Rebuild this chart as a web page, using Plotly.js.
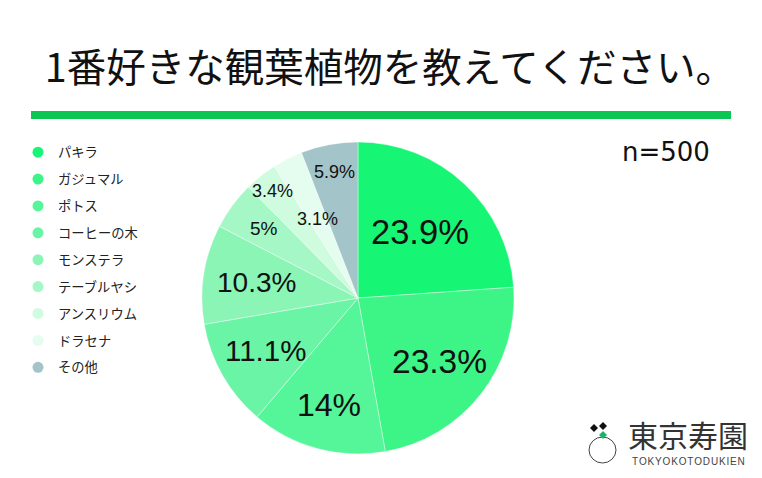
<!DOCTYPE html>
<html>
<head>
<meta charset="utf-8">
<script src="https://cdn.plot.ly/plotly-3.0.1.min.js"></script>
<style>html,body{margin:0;padding:0;background:#fff;}#chart{width:762px;height:478px;}</style>
</head>
<body>
<div id="chart"></div>
<script>
const labels = ["パキラ", "ガジュマル", "ポトス", "コーヒーの木", "モンステラ", "テーブルヤシ", "アンスリウム", "ドラセナ", "その他"];
const values = [23.9, 23.3, 14, 11.1, 10.3, 5, 3.4, 3.1, 5.9];
const titleText = "1番好きな観葉植物を教えてください。";
const sampleText = "n=500";

const colors = ["#16F674", "#3DF586", "#55F599", "#6AF4A6", "#8BF5B6", "#A5F7C6", "#CFFBDF", "#E5FDEE", "#A3C4C9"];
const textSizes = [34.5, 33.5, 32, 29.5, 28, 19, 18, 18, 18];
// radial fraction of each slice's label (style)
const labelRadius = [0.58, 0.66, 0.71, 0.68, 0.66, 0.75, 0.88, 0.57, 0.82];

const cx = 358, cy = 298, r = 156, W = 762, H = 478;
const digitFont = "Liberation Sans, Arial, sans-serif";

const pie = {
  type: "pie",
  labels: labels,
  values: values,
  sort: false,
  direction: "clockwise",
  rotation: 0,
  marker: {colors: colors, line: {color: "#ffffff", width: 0.4}},
  textinfo: "none",
  domain: {x: [(cx - r) / W, (cx + r) / W], y: [(H - cy - r) / H, (H - cy + r) / H]},
  showlegend: false,
  hoverinfo: "label+percent"
};

const legendTraces = labels.map((lab, i) => ({
  type: "scatter",
  mode: "markers",
  x: [null], y: [null],
  name: lab,
  legendgroup: "g" + i,
  marker: {color: colors[i], size: 11, symbol: "circle"},
  showlegend: true,
  hoverinfo: "skip"
}));

// percentage labels, positioned along each slice's mid-angle from the cumulative values
const total = values.reduce((a, b) => a + b, 0);
const sliceAnnotations = [];
let cum = 0;
values.forEach((v, i) => {
  const mid = (cum + v / 2) / total * 2 * Math.PI;
  cum += v;
  const f = labelRadius[i];
  sliceAnnotations.push({
    text: v + "%", xref: "paper", yref: "paper",
    x: (cx + f * r * Math.sin(mid)) / W,
    y: 1 - (cy - f * r * Math.cos(mid)) / H,
    xanchor: "center", yanchor: "middle", showarrow: false, borderpad: 0,
    font: {size: textSizes[i], color: "#111111", family: digitFont}
  });
});

function diamond(x, y, s) {
  return "M " + ((x) / W) + "," + (1 - (y - s) / H) + " L " + ((x + s) / W) + "," + (1 - y / H) +
         " L " + (x / W) + "," + (1 - (y + s) / H) + " L " + ((x - s) / W) + "," + (1 - y / H) + " Z";
}

const layout = {
  width: W, height: H,
  margin: {l: 0, r: 0, t: 0, b: 0},
  paper_bgcolor: "#ffffff",
  plot_bgcolor: "rgba(0,0,0,0)",
  xaxis: {visible: false, domain: [0, 0.01]},
  yaxis: {visible: false, domain: [0, 0.01]},
  title: {
    text: titleText,
    x: 390 / W, xanchor: "center",
    y: 1 - 68 / H, yanchor: "middle",
    font: {size: 39.5, color: "#111111", family: "Noto Sans CJK JP, sans-serif"}
  },
  showlegend: true,
  legend: {
    x: 18 / W, xanchor: "left",
    y: 1 - 137 / H, yanchor: "top",
    tracegroupgap: 6.6,
    font: {size: 13.3, color: "#222222", family: "Noto Sans CJK JP, sans-serif"},
    bgcolor: "rgba(0,0,0,0)",
    itemclick: false
  },
  shapes: [
    {type: "rect", xref: "paper", yref: "paper", x0: 31 / W, x1: 731 / W, y0: 1 - 119 / H, y1: 1 - 111 / H,
     fillcolor: "#0BC653", line: {width: 0}},
    {type: "circle", xref: "paper", yref: "paper", x0: 589 / W, x1: 616 / W, y0: 1 - 463 / H, y1: 1 - 437 / H,
     fillcolor: "rgba(0,0,0,0)", line: {color: "#444444", width: 1}},
    {type: "path", xref: "paper", yref: "paper", path: diamond(594, 428, 4), fillcolor: "#111111", line: {width: 0}},
    {type: "path", xref: "paper", yref: "paper", path: diamond(603, 426, 4), fillcolor: "#111111", line: {width: 0}},
    {type: "path", xref: "paper", yref: "paper", path: diamond(603, 435, 4), fillcolor: "#1BB36A", line: {width: 0}}
  ],
  annotations: sliceAnnotations.concat([
    {text: sampleText, xref: "paper", yref: "paper", x: 666 / W, y: 1 - 152 / H, xanchor: "center", yanchor: "middle",
     showarrow: false, font: {size: 26, color: "#111111", family: "DejaVu Sans, sans-serif"}},
    {text: "東京寿園", xref: "paper", yref: "paper", x: 688 / W, y: 1 - 434 / H, xanchor: "center", yanchor: "middle",
     showarrow: false, borderpad: 0, font: {size: 30, color: "#333333", family: "Noto Sans CJK JP, sans-serif"}},
    {text: "T\u200AO\u200AK\u200AY\u200AO\u200AK\u200AO\u200AT\u200AO\u200AD\u200AU\u200AK\u200AI\u200AE\u200AN", xref: "paper", yref: "paper", x: 688 / W, y: 1 - 461 / H, xanchor: "center", yanchor: "middle",
     showarrow: false, borderpad: 0, font: {size: 10, color: "#444444", family: "Liberation Sans, Arial, sans-serif"}}
  ])
};

Plotly.newPlot("chart", [pie].concat(legendTraces), layout, {displayModeBar: false, staticPlot: true});
</script>
</body>
</html>
